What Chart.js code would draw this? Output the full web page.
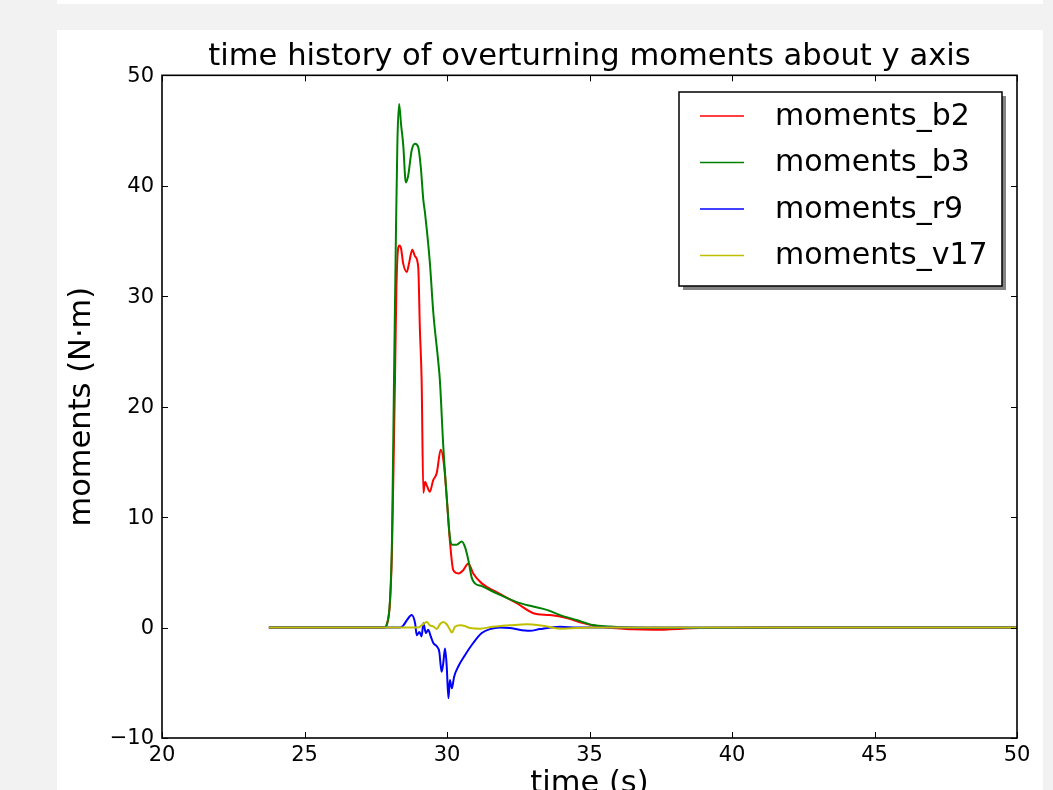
<!DOCTYPE html>
<html>
<head>
<meta charset="utf-8">
<script src="https://cdn.jsdelivr.net/npm/chart.js@4.4.1/dist/chart.umd.min.js"></script>
<style>
  html, body { margin:0; padding:0; background:#f2f2f2; overflow:hidden; width:1053px; height:790px; }
  #strip { position:absolute; left:57px; top:0; width:986px; height:4px; background:#fff; }
  #panel { position:absolute; left:57px; top:30px; width:986px; height:760px; background:#fff; }
  #c { position:absolute; left:0; top:0; }
</style>
</head>
<body>
<div id="strip"></div>
<div id="panel"></div>
<canvas id="c" width="1053" height="830"></canvas>
<script>
// ---- data ----
const seriesNames = ['moments_b2', 'moments_b3', 'moments_r9', 'moments_v17'];
const seriesColors = ['#ff0000', '#008000', '#0000ff', '#bfbf00'];

const timeB2 = [23.75, 27.82, 27.88, 28.0, 28.07, 28.14, 28.175, 28.22, 28.26, 28.30, 28.33, 28.39, 28.46, 28.59, 28.67, 28.78, 28.88, 28.99, 29.05, 29.11, 29.17, 29.23, 29.30, 29.40, 29.51, 29.64, 29.78, 29.90, 29.99, 30.10, 30.22, 30.40, 30.57, 30.75, 30.92, 31.22, 31.74, 32.45, 33.03, 33.61, 34.20, 34.78, 35.37, 36.53, 37.23, 38.88, 42.39, 50.0];
const momentsB2 = [0, 0, 0.2, 2.3, 7, 17, 22.4, 30, 33.5, 34.5, 34.6, 34.3, 33.0, 32.2, 33.0, 34.2, 33.6, 32.65, 26.9, 22.4, 12.2, 13.2, 12.8, 12.3, 13.3, 14.0, 16.1, 14.6, 11.8, 7.9, 5.2, 4.9, 5.2, 5.8, 4.9, 4.0, 3.2, 2.2, 1.3, 1.13, 0.86, 0.4, 0.07, -0.16, -0.2, -0.05, 0, 0];

const timeB3 = [23.75, 27.82, 27.88, 28.0, 28.07, 28.14, 28.21, 28.26, 28.32, 28.39, 28.47, 28.53, 28.56, 28.64, 28.76, 28.88, 28.99, 29.08, 29.17, 29.23, 29.40, 29.52, 29.70, 29.75, 29.87, 29.99, 30.10, 30.17, 30.34, 30.52, 30.63, 30.75, 30.87, 30.98, 31.22, 31.74, 32.45, 33.02, 33.50, 33.97, 34.55, 35.12, 35.72, 36.42, 37.47, 38.88, 42.39, 50.0];
const momentsB3 = [0, 0, 0.2, 2.5, 8, 22.4, 36, 44, 47.4, 45.5, 43.5, 40.8, 40.3, 40.95, 43.2, 43.8, 43.5, 41.7, 38.7, 37.5, 33.0, 28.5, 23.9, 22.4, 16.4, 11.8, 8.2, 7.5, 7.5, 7.8, 7.3, 6.1, 4.5, 4.0, 3.75, 3.1, 2.3, 1.9, 1.6, 1.13, 0.68, 0.23, 0.1, 0.0, -0.05, -0.05, 0, 0];

const timeR9 = [23.75, 28.35, 28.47, 28.60, 28.76, 28.88, 28.94, 29.03, 29.11, 29.17, 29.26, 29.34, 29.43, 29.52, 29.64, 29.73, 29.81, 29.87, 29.93, 29.99, 30.05, 30.10, 30.17, 30.25, 30.40, 30.63, 30.92, 31.22, 31.51, 31.86, 32.21, 32.91, 33.26, 33.97, 34.56, 50.0];
const momentsR9 = [0, 0, 0.2, 0.7, 1.13, 0.4, -0.7, -0.4, -0.8, 0.4, -0.5, -0.2, -0.8, -1.4, -1.7, -2.2, -4.0, -3.2, -1.9, -3.5, -6.4, -4.75, -5.5, -4.45, -3.5, -2.5, -1.4, -0.5, -0.14, 0.0, -0.05, -0.3, -0.14, 0.07, 0, 0];

const timeV17 = [23.75, 28.98, 29.11, 29.29, 29.40, 29.52, 29.64, 29.75, 29.87, 29.99, 30.08, 30.17, 30.28, 30.46, 30.63, 30.81, 31.16, 31.61, 32.21, 32.80, 33.37, 33.97, 35.12, 50.0];
const momentsV17 = [0, 0, 0.2, 0.5, 0.2, 0.1, -0.14, 0.3, 0.5, 0.3, -0.08, -0.45, 0.07, 0.2, 0.14, -0.05, -0.1, 0.07, 0.2, 0.3, 0.16, -0.1, 0, 0];

const xTicks = [20, 25, 30, 35, 40, 45, 50];
const yTicks = [-10, 0, 10, 20, 30, 40, 50];

const titleText = 'time history of overturning moments about y axis';
const xTitle = 'time (s)';
const yTitle = 'moments (N\u00b7m)';

// ---- chart ----
const FONT = "'DejaVu Sans', 'Liberation Sans', sans-serif";
const times = [timeB2, timeB3, timeR9, timeV17];
const values = [momentsB2, momentsB3, momentsR9, momentsV17];

const datasets = seriesNames.map((name, k) => ({
  label: name,
  data: times[k].map((t, i) => ({ x: t, y: values[k][i] })),
  borderColor: seriesColors[k],
  backgroundColor: seriesColors[k],
  borderWidth: 2,
  pointRadius: 0,
  cubicInterpolationMode: 'monotone',
  fill: false,
  order: seriesNames.length - k
}));

const fmt = v => (v < 0 ? '\u2212' + Math.abs(v) : String(v));

const framePlugin = {
  id: 'frame',
  afterDatasetsDraw(chart) {
    const { ctx, chartArea: a, scales } = chart;
    ctx.save();
    ctx.strokeStyle = '#000';
    ctx.lineWidth = 1;
    const tl = 6;
    ctx.beginPath();
    xTicks.forEach(v => {
      const px = Math.round(scales.x.getPixelForValue(v)) + 0.5;
      ctx.moveTo(px, a.bottom); ctx.lineTo(px, a.bottom - tl);
      ctx.moveTo(px, a.top); ctx.lineTo(px, a.top + tl);
    });
    yTicks.forEach(v => {
      const py = Math.round(scales.y.getPixelForValue(v)) + 0.5;
      ctx.moveTo(a.left, py); ctx.lineTo(a.left + tl, py);
      ctx.moveTo(a.right, py); ctx.lineTo(a.right - tl, py);
    });
    ctx.stroke();
    ctx.lineWidth = 1.6;
    ctx.strokeRect(a.left, a.top, a.right - a.left, a.bottom - a.top);
    ctx.restore();
  },
  afterDraw(chart) {
    const ctx = chart.ctx;
    const bx = 679, by = 92, bw = 323, bh = 194;
    ctx.save();
    ctx.fillStyle = 'rgba(110,110,110,0.85)';
    ctx.fillRect(bx + 4, by + 4, bw, bh);
    ctx.fillStyle = '#fff';
    ctx.fillRect(bx, by, bw, bh);
    ctx.strokeStyle = '#000';
    ctx.lineWidth = 1.5;
    ctx.strokeRect(bx, by, bw, bh);
    ctx.font = '30px ' + FONT;
    ctx.textBaseline = 'middle';
    ctx.textAlign = 'left';
    chart.data.datasets.forEach((ds, i) => {
      const y = 116 + i * 46.5;
      ctx.strokeStyle = ds.borderColor;
      ctx.lineWidth = 1.6;
      ctx.beginPath();
      ctx.moveTo(700, y); ctx.lineTo(744, y);
      ctx.stroke();
      ctx.fillStyle = '#000';
      ctx.fillText(ds.label, 775, y + 1);
    });
    ctx.restore();
  }
};

new Chart(document.getElementById('c'), {
  type: 'line',
  data: { datasets },
  plugins: [framePlugin],
  options: {
    responsive: false,
    animation: false,
    devicePixelRatio: 1,
    layout: { padding: { left: 64, right: 36, top: 0, bottom: 0 } },
    plugins: {
      legend: { display: false },
      tooltip: { enabled: false },
      title: {
        display: true,
        text: titleText,
        fullSize: false,
        color: '#000',
        font: { family: FONT, size: 30.6, weight: 'normal', lineHeight: 1.2 },
        padding: { top: 38.6, bottom: 0 }
      }
    },
    scales: {
      x: {
        type: 'linear',
        min: 20, max: 50,
        afterBuildTicks: s => { s.ticks = xTicks.map(v => ({ value: v })); },
        afterFit: s => { s.height = 92; },
        ticks: { color: '#000', font: { family: FONT, size: 21 }, padding: 5, maxRotation: 0, autoSkip: false, callback: fmt },
        grid: { display: false, drawTicks: false },
        border: { display: false },
        title: { display: true, text: xTitle, color: '#000', font: { family: FONT, size: 30.5 }, padding: { top: 0, bottom: 27.4 } }
      },
      y: {
        type: 'linear',
        min: -10, max: 50,
        afterBuildTicks: s => { s.ticks = yTicks.map(v => ({ value: v })); },
        afterFit: s => { s.width = 98; },
        ticks: { color: '#000', font: { family: FONT, size: 21 }, padding: 8, labelOffset: 1, autoSkip: false, callback: fmt },
        grid: { display: false, drawTicks: false },
        border: { display: false },
        title: { display: true, text: yTitle, color: '#000', font: { family: FONT, size: 30.5 }, padding: { top: 0, bottom: 0 } }
      }
    }
  }
});
</script>
</body>
</html>
